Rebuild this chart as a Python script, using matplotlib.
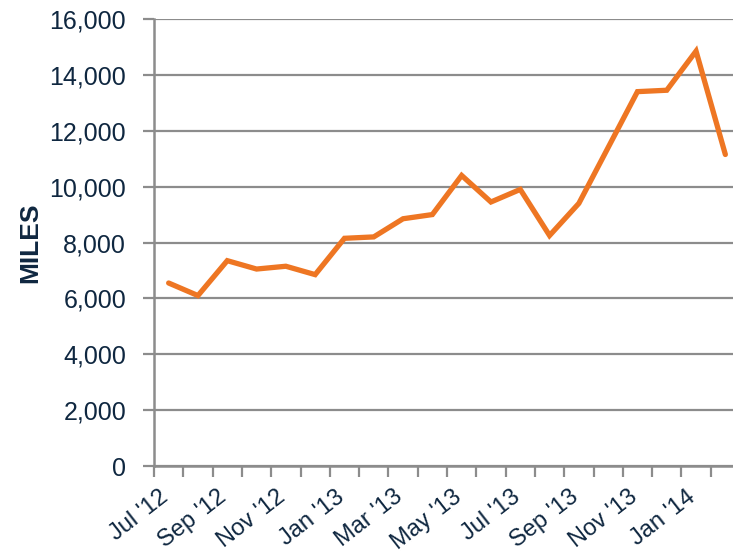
import matplotlib
matplotlib.use("Agg")
import matplotlib.pyplot as plt
import numpy as np

months = ["Jul '12", "Aug '12", "Sep '12", "Oct '12", "Nov '12", "Dec '12",
          "Jan '13", "Feb '13", "Mar '13", "Apr '13", "May '13", "Jun '13",
          "Jul '13", "Aug '13", "Sep '13", "Oct '13", "Nov '13", "Dec '13",
          "Jan '14", "Feb '14"]
miles = [6550, 6100, 7350, 7050, 7150, 6850,
         8150, 8200, 8850, 9000, 10400, 9450,
         9900, 8250, 9400, 11400, 13400, 13450,
         14850, 11150]
yticks = [0, 2000, 4000, 6000, 8000, 10000, 12000, 14000, 16000]

plt.rcParams['font.family'] = ['Liberation Sans', 'DejaVu Sans']
text_color = '#0f2740'
grid_color = '#8c8c8c'
line_color = '#ee7623'

fig = plt.figure(figsize=(7.33, 5.53), dpi=100)
ax = fig.add_axes([154/733, 87/553, (740-154)/733, (466-19)/553])

x = np.arange(len(months))
ax.plot(x, miles, color=line_color, linewidth=3.8, solid_joinstyle='miter',
        solid_capstyle='round', zorder=3, clip_on=False)

ax.set_xlim(-0.5, len(months) - 0.5)
ax.set_ylim(0, 16000)

# y axis
ax.set_yticks(yticks)
ax.set_yticklabels([f"{v:,}" for v in yticks])
ax.yaxis.grid(True, color=grid_color, linewidth=1.6, zorder=0)
ax.tick_params(axis='y', length=8, width=1.6, color=grid_color,
               labelsize=18, labelcolor=text_color, pad=12)

# x axis: tick marks at category boundaries, labels at every other category
ax.set_xticks(np.arange(len(months) + 1) - 0.5)
ax.set_xticklabels([])
ax.tick_params(axis='x', which='major', length=8, width=1.6, color=grid_color)
ax.set_xticks(x[::2] - 0.1, minor=True)
ax.set_xticklabels(months[::2], minor=True, rotation=38, ha='right',
                   va='center', rotation_mode='anchor')
ax.tick_params(axis='x', which='minor', length=0, labelsize=17,
               labelcolor=text_color, pad=20.5)

for s in ['top', 'right']:
    ax.spines[s].set_visible(False)
for s in ['left', 'bottom']:
    ax.spines[s].set_color(grid_color)
    ax.spines[s].set_linewidth(1.8)

ax.set_ylabel("MILES", fontsize=19, fontweight='bold', color=text_color)
ax.yaxis.set_label_coords(-0.19, 0.5)

fig.savefig("out.png", dpi=100)
